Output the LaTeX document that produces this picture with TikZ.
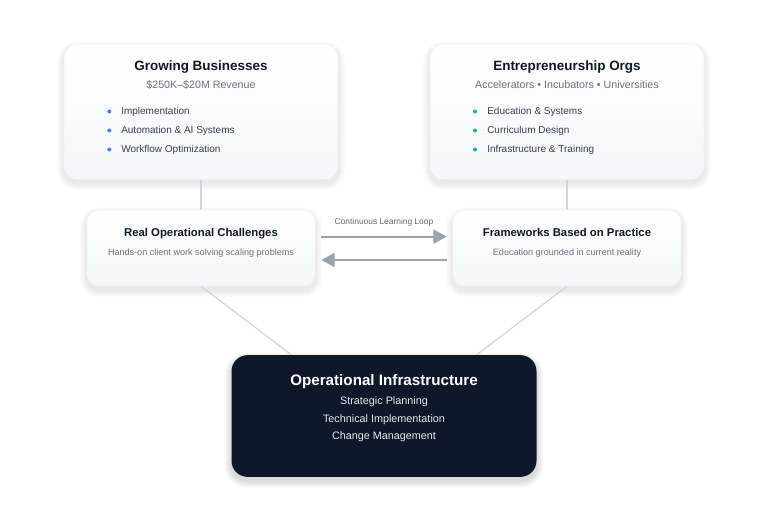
\documentclass[tikz,border=0pt]{standalone}
\usepackage{fontspec}
\setmainfont{Liberation Sans}
\usepackage{xcolor}
\usetikzlibrary{positioning, arrows.meta, backgrounds, calc}

\definecolor{inkdark}{HTML}{111827}
\definecolor{inkgray}{HTML}{6B7280}
\definecolor{inkitem}{HTML}{374151}
\definecolor{cardbot}{HTML}{F5F7F8}
\definecolor{cardedge}{HTML}{F1F3F5}
\definecolor{navy}{HTML}{0F172A}
\definecolor{navytext}{HTML}{E5E7EB}
\definecolor{linkgray}{HTML}{D1D5DB}
\definecolor{loopgray}{HTML}{9CA3AF}
\definecolor{dotblue}{HTML}{3B82F6}
\definecolor{dotgreen}{HTML}{10B981}

\tikzset{
  card/.style={rectangle, rounded corners=10.5pt, draw=cardedge, line width=0.4pt,
    top color=white, bottom color=cardbot, inner sep=0pt},
  bigcard/.style={card, minimum width=205.5pt, minimum height=101.6pt},
  midcard/.style={card, rounded corners=9pt, minimum width=171pt, minimum height=57pt},
  darkcard/.style={rectangle, rounded corners=12pt, fill=navy, inner sep=0pt,
    minimum width=228.75pt, minimum height=91.3pt},
  cardtitle/.style={font=\fontsize{10.1}{12}\selectfont\bfseries, text=inkdark, anchor=base, inner sep=0pt},
  cardsub/.style={font=\fontsize{8}{10}\selectfont, text=inkgray, anchor=base, inner sep=0pt},
  item/.style={font=\fontsize{7.5}{9}\selectfont, text=inkitem, anchor=base west, inner sep=0pt},
  midtitle/.style={font=\fontsize{8.5}{10}\selectfont\bfseries, text=inkdark, anchor=base, inner sep=0pt},
  midsub/.style={font=\fontsize{6.8}{8}\selectfont, text=inkgray, anchor=base, inner sep=0pt},
  link/.style={draw=linkgray, line width=0.9pt},
  looparrow/.style={draw=loopgray, line width=1.5pt, -{Triangle[length=10pt, width=10.5pt]},
    shorten <=4.5pt, shorten >=4.5pt},
  looplabel/.style={font=\fontsize{6.3}{8}\selectfont, text=inkitem!80, inner sep=0pt}
}

\begin{document}
\begin{tikzpicture}[x=0.75pt, y=-0.75pt]
  \useasboundingbox (0,0) rectangle (768,513);

  % cards
  \node[bigcard] (gb) at (201,111.75) {};
  \node[bigcard] (orgs) at (567,111.75) {};
  \node[midcard] (roc) at (201,248) {};
  \node[midcard] (fw) at (567,248) {};
  \node[darkcard] (ops) at (384,416) {};

  % soft shadows and links behind the cards
  \begin{scope}[on background layer]
    \fill[white] (0,0) rectangle (768,513);
    \foreach \c/\r/\o in {gb/10.5/0.011, orgs/10.5/0.011, roc/9/0.011, fw/9/0.011, ops/12/0.02} {
      \foreach \k in {1,...,7} {
        \pgfmathsetmacro\rad{\r+\k*0.7}
        \fill[black, opacity=\o, rounded corners=\rad pt]
          ([shift={(-\k*0.7pt,-3pt+\k*0.7pt)}]\c.north west) rectangle ([shift={(\k*0.7pt,-3pt-\k*0.7pt)}]\c.south east);
      }
    }
    \coordinate (opsleft) at ([xshift=-69.4pt]ops.north);
    \coordinate (opsright) at ([xshift=69.4pt]ops.north);
    \draw[link] (gb.south) -- (roc.north);
    \draw[link] (orgs.south) -- (fw.north);
    \draw[link] (roc.south) -- (opsleft);
    \draw[link] (fw.south) -- (opsright);
  \end{scope}

  % top left
  \node[cardtitle] (gbtitle) at (201,70.7) {Growing Businesses};
  \node[cardsub] (gbsub) at (201,89) {\$250K--\$20M Revenue};
  \foreach \i/\txt in {0/Implementation, 1/Automation \& AI Systems, 2/Workflow Optimization} {
    \fill[dotblue] (109.3,{111.5+19*\i}) circle (1.5pt);
    \node[item] (gbitem\i) at (121,{115+19*\i}) {\txt};
  }

  % top right
  \node[cardtitle] (orgstitle) at (567,70.7) {Entrepreneurship Orgs};
  \node[cardsub] (orgssub) at (567,89) {Accelerators • Incubators • Universities};
  \foreach \i/\txt in {0/Education \& Systems, 1/Curriculum Design, 2/Infrastructure \& Training} {
    \fill[dotgreen] (475,{111.5+19*\i}) circle (1.5pt);
    \node[item] (orgsitem\i) at (487,{115+19*\i}) {\txt};
  }

  % middle row
  \node[midtitle] (roctitle) at (201,237) {Real Operational Challenges};
  \node[midsub] (rocsub) at (201,255.7) {Hands-on client work solving scaling problems};
  \node[midtitle] (fwtitle) at (567,237) {Frameworks Based on Practice};
  \node[midsub] (fwsub) at (567,255.7) {Education grounded in current reality};

  \draw[looparrow] ([yshift=8.5pt]roc.east) -- node[looplabel, above=6.7pt] (looptext) {Continuous Learning Loop} ([yshift=8.5pt]fw.west);
  \draw[looparrow] ([yshift=-9pt]fw.west) -- ([yshift=-9pt]roc.east);

  % bottom
  \node[font=\fontsize{11.4}{13}\selectfont\bfseries, text=white, anchor=base, inner sep=0pt] (opstitle) at (384,385.7) {Operational Infrastructure};
  \foreach \j/\txt in {0/Strategic Planning, 1/Technical Implementation, 2/Change Management} {
    \node[font=\fontsize{8.1}{10}\selectfont, text=navytext, anchor=base, inner sep=0pt] (opsline\j) at (384,{405+17.4*\j}) {\txt};
  }
\end{tikzpicture}
\end{document}
